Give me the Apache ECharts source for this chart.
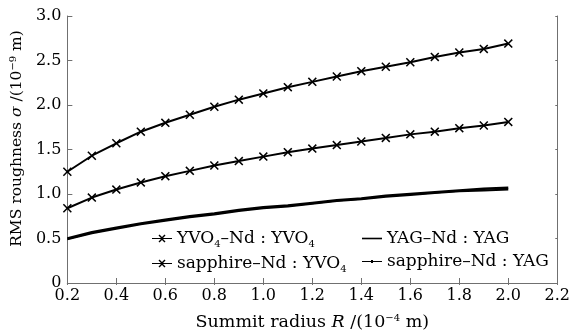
<!DOCTYPE html>
<html>
<head>
<meta charset="utf-8">
<script src="https://cdn.jsdelivr.net/npm/echarts@6/dist/echarts.min.js"></script>
<style>
  html, body { margin: 0; padding: 0; background: #fff; }
  #chart { width: 573px; height: 336px; }
</style>
</head>
<body>
<div id="chart"></div>
<script>
// summit radius R (10^-4 m)
const radius = [0.2, 0.3, 0.4, 0.5, 0.6, 0.7, 0.8, 0.9, 1.0, 1.1, 1.2, 1.3, 1.4, 1.5, 1.6, 1.7, 1.8, 1.9, 2.0];
// RMS roughness (10^-9 m)
const yvoYvo = [1.25, 1.43, 1.57, 1.70, 1.80, 1.89, 1.98, 2.06, 2.13, 2.20, 2.26, 2.32, 2.38, 2.43, 2.48, 2.54, 2.59, 2.63, 2.69];
const sapphireYvo = [0.84, 0.96, 1.05, 1.13, 1.20, 1.26, 1.32, 1.37, 1.42, 1.47, 1.51, 1.55, 1.59, 1.63, 1.67, 1.70, 1.74, 1.77, 1.81];
const yagYag = [0.50, 0.57, 0.62, 0.67, 0.71, 0.75, 0.78, 0.82, 0.85, 0.87, 0.90, 0.93, 0.95, 0.98, 1.00, 1.02, 1.04, 1.06, 1.07];
const sapphireYag = [0.49, 0.56, 0.61, 0.66, 0.70, 0.74, 0.77, 0.81, 0.84, 0.86, 0.89, 0.92, 0.94, 0.97, 0.99, 1.01, 1.03, 1.04, 1.05];
const xTicks = [0.2, 0.4, 0.6, 0.8, 1.0, 1.2, 1.4, 1.6, 1.8, 2.0, 2.2];
const yTicks = [0, 0.5, 1.0, 1.5, 2.0, 2.5, 3.0];

const FONT = '"DejaVu Serif", "Liberation Serif", serif';
const FRAME = '#707070';
const CROSS = 'path://M0,1.2L1.2,0L5,3.8L8.8,0L10,1.2L6.2,5L10,8.8L8.8,10L5,6.2L1.2,10L0,8.8L3.8,5Z';

// legend icons (20 x 10 box)
const ICON_CROSS = 'path://M0,4.4H20V5.6H0Z M6.5,2L7.5,1L10,3.5L12.5,1L13.5,2L11,4.5L11,5.5L13.5,8L12.5,9L10,6.5L7.5,9L6.5,8L9,5.5L9,4.5Z';
const ICON_LINE = 'path://M0,4.2H20V5.8H0Z';
const ICON_DOT = 'path://M0,4.4H20V5.6H0Z M9,3.6H11V6.4H9Z';

const names = ['YVO4-Nd:YVO4', 'sapphire-Nd:YVO4', 'YAG-Nd:YAG', 'sapphire-Nd:YAG'];
const legendText = {
  'YVO4-Nd:YVO4': 'YVO{sub|4}–Nd : YVO{sub|4}',
  'sapphire-Nd:YVO4': 'sapphire–Nd : YVO{sub|4}',
  'YAG-Nd:YAG': 'YAG–Nd : YAG',
  'sapphire-Nd:YAG': 'sapphire–Nd : YAG',
};

function pairs(ys) {
  return radius.map((r, i) => [r, ys[i]]);
}

const chart = echarts.init(document.getElementById('chart'), null, { renderer: 'canvas' });

const legendStyle = {
  orient: 'vertical',
  itemWidth: 20,
  itemHeight: 10,
  itemGap: 6,
  formatter: (n) => legendText[n],
  textStyle: {
    fontFamily: FONT,
    fontSize: 17,
    color: '#000',
    rich: {
      sub: { fontFamily: FONT, fontSize: 10, color: '#000', padding: [11, 0, 0, 0] },
    },
  },
};

const tickFmt = (v) => {
  if (!yTicks.concat(xTicks).some((t) => Math.abs(t - v) < 1e-6)) return '';
  return v === 0 ? '0' : v.toFixed(1);
};

function nameStyle(size, padding) {
  return {
    fontFamily: FONT,
    fontSize: size,
    color: '#000',
    padding,
    rich: {
      i: { fontFamily: FONT, fontSize: size, fontStyle: 'italic', color: '#000' },
      sup: { fontFamily: FONT, fontSize: 10, color: '#000', padding: [0, 0, 8, 0] },
    },
  };
}

chart.setOption({
  animation: false,
  grid: { left: 67, right: 12, top: 16, bottom: 52 },
  legend: [
    Object.assign({
      data: [{ name: names[0], icon: ICON_CROSS }, { name: names[1], icon: ICON_CROSS }],
      left: 147,
      top: 225,
    }, legendStyle),
    Object.assign({
      data: [{ name: names[2], icon: ICON_LINE }, { name: names[3], icon: ICON_DOT }],
      left: 357,
      top: 225,
    }, legendStyle),
  ],
  xAxis: [
    {
      type: 'value',
      min: 0.2,
      max: 2.2,
      interval: 0.2,
      name: 'Summit radius {i|R} /(10{sup|−4} m)',
      nameLocation: 'middle',
      nameGap: 30,
      nameTextStyle: nameStyle(17.5, 0),
      axisLine: { lineStyle: { color: FRAME, width: 1 } },
      axisTick: { inside: true, length: 5, lineStyle: { color: FRAME } },
      axisLabel: { fontFamily: FONT, fontSize: 16, color: '#000', margin: 5, formatter: tickFmt },
      splitLine: { show: false },
    },
    {
      type: 'value',
      position: 'top',
      min: 0.2,
      max: 2.2,
      interval: 0.2,
      axisLine: { show: true, lineStyle: { color: FRAME, width: 1 } },
      axisTick: { show: true, inside: true, length: 2, lineStyle: { color: FRAME } },
      axisLabel: { show: false },
      splitLine: { show: false },
    },
  ],
  yAxis: [
    {
      type: 'value',
      min: 0,
      max: 3,
      interval: 0.5,
      name: 'RMS roughness {i|σ} /(10{sup|−9} m)',
      nameLocation: 'middle',
      nameGap: 41,
      nameTextStyle: nameStyle(15.5, [0, 0, 0, 22]),
      axisLine: { show: true, lineStyle: { color: FRAME, width: 1 } },
      axisTick: { show: true, inside: true, length: 5, lineStyle: { color: FRAME } },
      axisLabel: { fontFamily: FONT, fontSize: 16, color: '#000', margin: 6, formatter: tickFmt },
      splitLine: { show: false },
    },
    {
      type: 'value',
      position: 'right',
      min: 0,
      max: 3,
      interval: 0.5,
      axisLine: { show: true, lineStyle: { color: FRAME, width: 1 } },
      axisTick: { show: true, inside: true, length: 2, lineStyle: { color: FRAME } },
      axisLabel: { show: false },
      splitLine: { show: false },
    },
  ],
  series: [
    {
      name: names[0],
      type: 'line',
      data: pairs(yvoYvo),
      color: '#000',
      symbol: CROSS,
      symbolSize: 9,
      lineStyle: { color: '#000', width: 2 },
    },
    {
      name: names[1],
      type: 'line',
      data: pairs(sapphireYvo),
      color: '#000',
      symbol: CROSS,
      symbolSize: 9,
      lineStyle: { color: '#000', width: 2 },
    },
    {
      name: names[2],
      type: 'line',
      data: pairs(yagYag),
      color: '#000',
      symbol: 'none',
      lineStyle: { color: '#000', width: 2.5 },
    },
    {
      name: names[3],
      type: 'line',
      data: pairs(sapphireYag),
      color: '#000',
      symbol: 'none',
      lineStyle: { color: '#000', width: 2 },
    },
  ],
});
</script>
</body>
</html>
